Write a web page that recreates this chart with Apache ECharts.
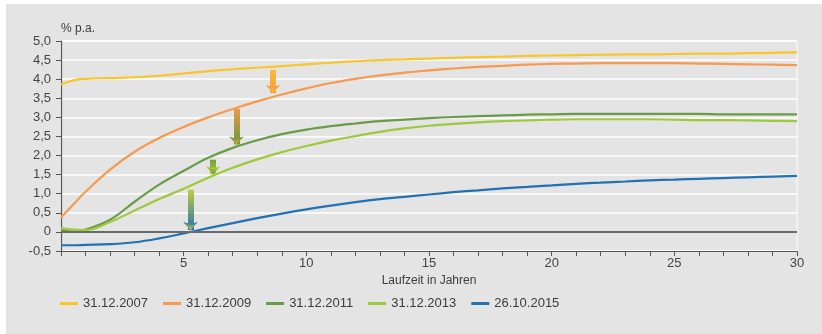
<!DOCTYPE html>
<html>
<head>
<meta charset="utf-8">
<script src="https://cdn.jsdelivr.net/npm/echarts@6/dist/echarts.min.js"></script>
<style>
  html, body { margin: 0; padding: 0; background: #fff; }
  #chart { position: absolute; left: 6px; top: 4px; width: 816px; height: 330px; background: #e3e4e3; }
</style>
</head>
<body>
<div id="chart"></div>
<script>
// Laufzeit in Jahren
const maturities = [0, 0.5, 1, 2, 3, 4, 5, 6, 7, 8, 9, 10, 11, 12, 13, 14, 15, 16, 17, 18, 19, 20, 21, 22, 23, 24, 25, 26, 27, 28, 29, 30];

// Zinsstrukturkurven, % p.a.
const y2007 = [3.86, 3.97, 4.01, 4.03, 4.05, 4.09, 4.15, 4.21, 4.26, 4.30, 4.34, 4.39, 4.43, 4.47, 4.50, 4.52, 4.54, 4.56, 4.58, 4.59, 4.61, 4.62, 4.63, 4.64, 4.65, 4.65, 4.66, 4.67, 4.67, 4.68, 4.69, 4.70];
const y2009 = [0.38, 0.72, 1.05, 1.63, 2.10, 2.46, 2.75, 3.00, 3.22, 3.42, 3.60, 3.76, 3.90, 4.01, 4.10, 4.17, 4.23, 4.28, 4.32, 4.35, 4.38, 4.40, 4.41, 4.42, 4.42, 4.42, 4.42, 4.41, 4.40, 4.39, 4.38, 4.37];
const y2011 = [0.04, 0.01, 0.06, 0.32, 0.79, 1.24, 1.60, 1.94, 2.20, 2.40, 2.56, 2.68, 2.77, 2.84, 2.90, 2.94, 2.98, 3.01, 3.03, 3.05, 3.07, 3.08, 3.09, 3.09, 3.09, 3.09, 3.09, 3.09, 3.08, 3.08, 3.08, 3.08];
const y2013 = [0.10, 0.06, 0.05, 0.26, 0.56, 0.86, 1.13, 1.42, 1.68, 1.90, 2.09, 2.25, 2.39, 2.51, 2.62, 2.71, 2.78, 2.83, 2.87, 2.90, 2.92, 2.94, 2.95, 2.95, 2.95, 2.95, 2.94, 2.93, 2.93, 2.92, 2.91, 2.90];
const y2015 = [-0.35, -0.35, -0.34, -0.32, -0.27, -0.17, -0.04, 0.10, 0.23, 0.36, 0.48, 0.59, 0.69, 0.78, 0.86, 0.92, 0.98, 1.04, 1.09, 1.14, 1.18, 1.22, 1.26, 1.29, 1.32, 1.35, 1.37, 1.39, 1.41, 1.43, 1.45, 1.47];

const seriesNames = ['31.12.2007', '31.12.2009', '31.12.2011', '31.12.2013', '26.10.2015'];
const seriesColors = ['#f9c62a', '#f7994e', '#6a9c48', '#9dc93b', '#2271b3'];

// Pfeile zwischen den Kurven
const arrowX = [8.64, 7.15, 6.2, 5.28];
const arrowFrom = [4.24, 3.22, 1.89, 1.11];
const arrowTo = [3.64, 2.29, 1.51, 0.05];
const arrowColors = [
  ['#fbbf3a', '#f5983f'],
  ['#f29a48', '#5c9a3e'],
  ['#5f9a40', '#c4d23a'],
  ['#c9d43a', '#1f6db3']
];

const chart = echarts.init(document.getElementById('chart'));

const lines = [y2007, y2009, y2011, y2013, y2015].map((vals, i) => ({
  name: seriesNames[i],
  type: 'line',
  data: maturities.map((m, j) => [m, vals[j]]),
  smooth: 0.4,
  showSymbol: false,
  lineStyle: { width: 2.2, color: seriesColors[i] },
  itemStyle: { color: seriesColors[i] },
  z: 3
}));

const arrowLines = arrowX.map((x, i) => [
  {
    coord: [x, arrowFrom[i]],
    lineStyle: {
      color: new echarts.graphic.LinearGradient(0, 0, 0, 1, [
        { offset: 0, color: arrowColors[i][0] },
        { offset: 1, color: arrowColors[i][1] }
      ])
    },
    itemStyle: { color: arrowColors[i][1] }
  },
  { coord: [x, arrowTo[i]], itemStyle: { color: arrowColors[i][1] } }
]);

const option = {
  animation: false,
  textStyle: { fontFamily: 'Liberation Sans, Arial, sans-serif' },
  grid: { left: 55, right: 25, top: 37, bottom: 83, show: true, borderColor: '#ffffff', borderWidth: 1 },
  legend: {
    data: seriesNames,
    left: 49,
    top: 288,
    icon: 'rect',
    itemWidth: 18,
    itemHeight: 3,
    itemGap: 15,
    textStyle: { fontSize: 13, color: '#3c3c3c' }
  },
  xAxis: {
    type: 'value',
    min: 0,
    max: 30,
    interval: 1,
    name: 'Laufzeit in Jahren',
    nameLocation: 'middle',
    nameGap: 22,
    nameTextStyle: { fontSize: 12, color: '#3c3c3c' },
    axisLine: { onZero: false, lineStyle: { color: '#555', width: 1.2 } },
    axisTick: { length: 5, lineStyle: { color: '#555' } },
    axisLabel: {
      margin: 6,
      fontSize: 13,
      color: '#444',
      formatter: v => (v % 5 === 0 && v !== 0 ? String(v) : '')
    },
    splitLine: { show: false }
  },
  yAxis: {
    type: 'value',
    min: -0.5,
    max: 5,
    interval: 0.5,
    name: '% p.a.',
    nameLocation: 'end',
    nameGap: 6,
    nameTextStyle: { fontSize: 12, color: '#3c3c3c', align: 'left' },
    axisLine: { show: true, lineStyle: { color: '#555', width: 1.2 } },
    axisTick: { show: true, length: 5, lineStyle: { color: '#555' } },
    axisLabel: {
      margin: 10,
      fontSize: 13,
      color: '#444',
      formatter: v => (v === 0 ? '0' : v.toFixed(1).replace('.', ','))
    },
    splitLine: { lineStyle: { color: '#ffffff', width: 1.5 } }
  },
  series: [
    {
      name: 'nulllinie',
      type: 'line',
      data: [],
      z: 2,
      markLine: {
        silent: true,
        symbol: 'none',
        label: { show: false },
        lineStyle: { color: '#6b6b6b', width: 2, type: 'solid' },
        data: [{ yAxis: 0 }]
      }
    },
    ...lines,
    {
      name: 'pfeile',
      type: 'line',
      data: [],
      z: 5,
      markLine: {
        silent: true,
        symbol: ['none', 'arrow'],
        symbolSize: [11, 8],
        label: { show: false },
        lineStyle: { width: 6, type: 'solid' },
        data: arrowLines
      }
    }
  ]
};

chart.setOption(option);
window.addEventListener('resize', () => chart.resize());
</script>
</body>
</html>
